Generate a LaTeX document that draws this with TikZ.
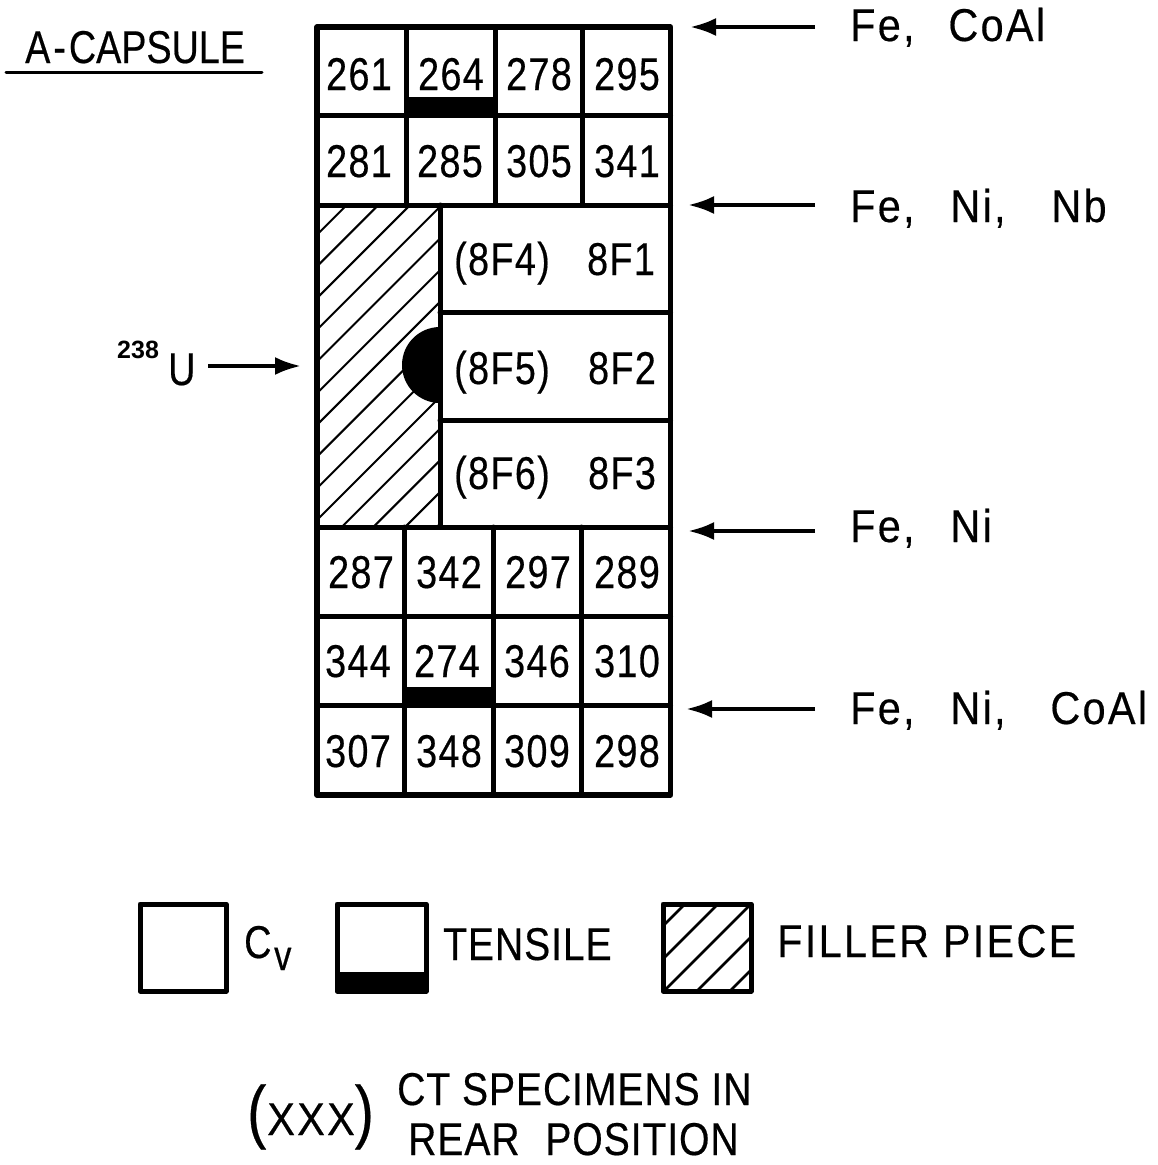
\documentclass[tikz,border=0pt]{standalone}
\usepackage{fontspec}
\usetikzlibrary{arrows.meta}
\setmainfont{Liberation Sans}
\newfontfamily\numf[FakeStretch=0.82,LetterSpace=3,FakeBold=0.4]{Liberation Sans}
\newfontfamily\labf[FakeStretch=0.9,LetterSpace=5,FakeBold=0.4]{Liberation Sans}
\newfontfamily\narf[FakeStretch=0.85,LetterSpace=2,FakeBold=0.4]{Liberation Sans}
\newfontfamily\headf[FakeStretch=0.82,FakeBold=0.4]{Liberation Sans}
\tikzset{
  grid/.style={line width=5pt,line join=round,line cap=round},
  hatchline/.style={line width=2pt},
  num/.style={inner sep=0pt,anchor=base,font=\numf\fontsize{46}{46}\selectfont},
  lab/.style={inner sep=0pt,anchor=base west,font=\labf\fontsize{46}{46}\selectfont},
  nar/.style={inner sep=0pt,anchor=base west,font=\narf\fontsize{46}{46}\selectfont},
  hd/.style={inner sep=0pt,anchor=base west,font=\headf\fontsize{46}{46}\selectfont},
  arr/.style={line width=4pt,-{Latex[length=26pt,width=18pt]}},
}
\begin{document}
\begin{tikzpicture}[x=1pt,y=-1pt]
\useasboundingbox[fill=white] (0,0) rectangle (1158,1165);
% filler hatch in the capsule
\begin{scope}
  \clip (317,205) rectangle (440,527);
  \foreach \k in {0,...,13} {
    \pgfmathsetmacro{\s}{551.7+31.7*\k}
    \draw[hatchline] (\s-527,527) -- (\s-205,205);
  }
\end{scope}
% half disc
\fill (440,403) arc[start angle=90,end angle=270,radius=38] -- cycle;
% tensile bars
\fill (406,97) rectangle (495,115);
\fill (404.5,687) rectangle (493.5,705);
% grid
\draw[grid,line width=5.5pt] (317,27) rectangle (670.5,795);
\draw[grid] (317,115.5) -- (670.5,115.5);
\draw[grid] (317,205) -- (670.5,205);
\draw[grid] (317,527) -- (670.5,527);
\draw[grid] (317,616) -- (670.5,616);
\draw[grid] (317,705.5) -- (670.5,705.5);
\foreach \x in {406,495,582.5} \draw[grid] (\x,27) -- (\x,205);
\foreach \x in {404.5,493.5,581.5} \draw[grid] (\x,527) -- (\x,795);
\draw[grid] (440,205) -- (440,527);
\draw[grid] (440,312.5) -- (670.5,312.5);
\draw[grid] (440,420) -- (670.5,420);
% cell numbers
\node[num] (n261) at (359,90) {261};
\node[num] (n264) at (451,90) {264};
\node[num] (n278) at (539,90) {278};
\node[num] (n295) at (627,90) {295};
\node[num] (n281) at (359,177) {281};
\node[num] (n285) at (450,177) {285};
\node[num] (n305) at (539,177) {305};
\node[num] (n341) at (627,177) {341};
\node[num] (n287) at (361,588) {287};
\node[num] (n342) at (449,588) {342};
\node[num] (n297) at (538,588) {297};
\node[num] (n289) at (627,588) {289};
\node[num] (n344) at (358,677) {344};
\node[num] (n274) at (447,677) {274};
\node[num] (n346) at (537,677) {346};
\node[num] (n310) at (627,677) {310};
\node[num] (n307) at (358,767) {307};
\node[num] (n348) at (449,767) {348};
\node[num] (n309) at (537,767) {309};
\node[num] (n298) at (627,767) {298};
\node[num] (f4) at (502,275) {(8F4)};
\node[num] (f1) at (621,275) {8F1};
\node[num] (f5) at (502,384) {(8F5)};
\node[num] (f2) at (622,384) {8F2};
\node[num] (f6) at (502,489) {(8F6)};
\node[num] (f3) at (622,489) {8F3};
% heading
\node[hd] (head) at (25,63) {A\hspace{3pt}-\hspace{3pt}CAPSULE};
\coordinate (ula) at (6,72);
\coordinate (ulb) at (262,72);
\draw[line width=3pt,line cap=round] (ula) -- (ulb);
% right labels and arrows
\node[lab] (l1) at (850,41) {Fe,\hspace{20pt} CoAl};
\node[lab] (l2) at (850,222) {Fe,\hspace{22pt} Ni,\hspace{32pt} Nb};
\node[lab] (l3) at (850,542) {Fe,\hspace{22pt} Ni};
\node[lab] (l4) at (850,724) {Fe,\hspace{22pt} Ni,\hspace{31pt} CoAl};
\coordinate (a1s) at (815,27);  \coordinate (a1e) at (690,27);
\coordinate (a2s) at (815,205); \coordinate (a2e) at (688,205);
\coordinate (a3s) at (815,531); \coordinate (a3e) at (688,531);
\coordinate (a4s) at (815,709); \coordinate (a4e) at (686,709);
\draw[arr] (a1s) -- (a1e);
\draw[arr] (a2s) -- (a2e);
\draw[arr] (a3s) -- (a3e);
\draw[arr] (a4s) -- (a4e);
% 238U
\node[inner sep=0pt,anchor=base west,font=\bfseries\fontsize{25}{25}\selectfont] (iso) at (117,358) {238};
\node[hd] (uu) at (168,385) {U};
\coordinate (ua) at (208,366);
\coordinate (ub) at (301,366);
\draw[arr] (ua) -- (ub);
% legend
\draw[line width=5pt,line join=round] (140,904) rectangle (226,991);
\node[hd] (cv) at (244,958) {C};
\node[inner sep=0pt,anchor=base west,font=\headf\fontsize{42}{42}\selectfont] (cvs) at (274,970) {v};
\fill[line join=round] (336,972) rectangle (427,992);
\draw[line width=5pt,line join=round] (337,904) rectangle (426,991);
\node[nar] (tens) at (443,960) {TENSILE};
\begin{scope}
  \clip (663,904) rectangle (751,991);
  \foreach \s in {1589,1622,1655,1688,1721}
    \draw[line width=2.6pt] (663,\s-663) -- (751,\s-751);
\end{scope}
\draw[line width=5pt,line join=round] (663,904) rectangle (751,991);
\node[lab] (fill) at (777,957) {FILLER PIECE};
\node[hd] (xxx) at (247,1135) {\fontsize{70}{70}\selectfont(\labf\fontsize{46}{46}\selectfont\hspace{1pt}XXX\headf\fontsize{70}{70}\selectfont)};
\node[nar] (ct) at (397,1105) {CT SPECIMENS IN};
\node[nar] (rear) at (408,1155) {REAR\hspace{14pt} POSITION};
\end{tikzpicture}
\end{document}
